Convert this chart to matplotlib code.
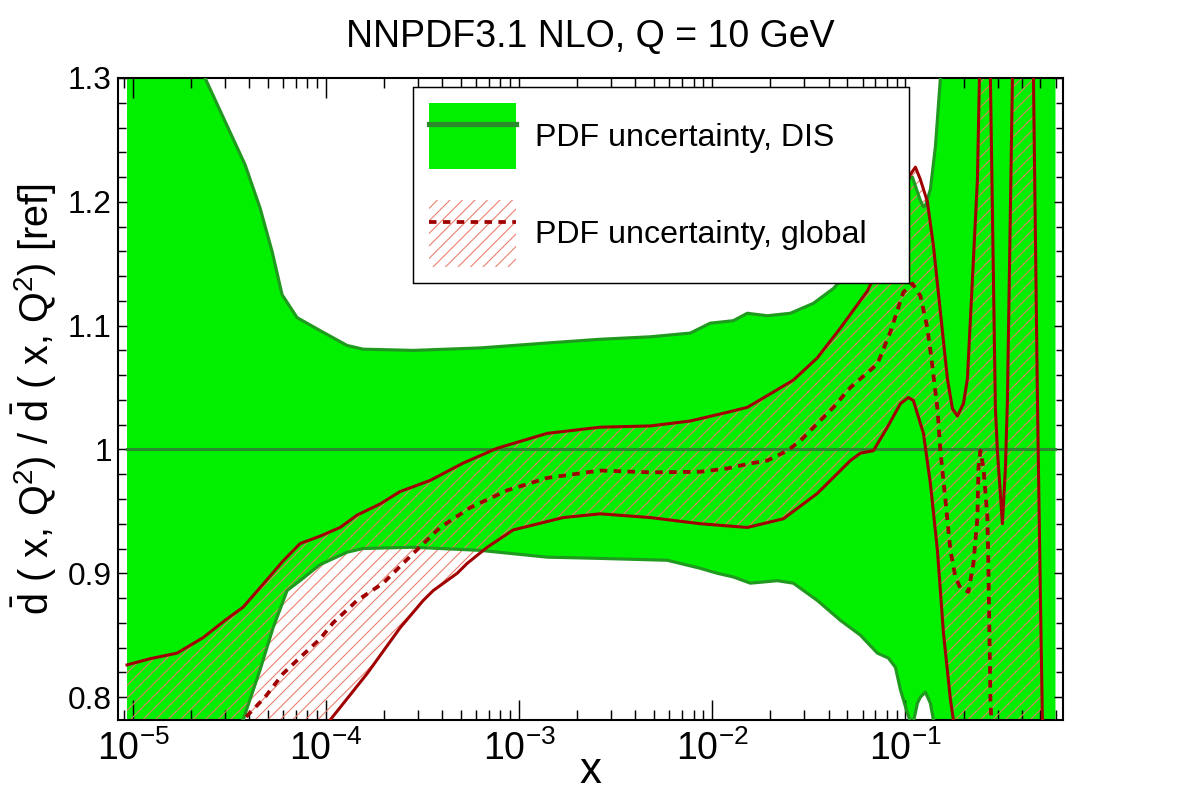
import numpy as np
import matplotlib
matplotlib.use("Agg")
import matplotlib.pyplot as plt
from matplotlib.patches import Patch
from matplotlib.lines import Line2D
from matplotlib.ticker import MultipleLocator, LogLocator, FuncFormatter, NullFormatter

plt.rcParams['font.family'] = ['Liberation Sans', 'DejaVu Sans']
plt.rcParams['mathtext.fontset'] = 'custom'
plt.rcParams['mathtext.rm'] = 'Liberation Sans'
plt.rcParams['mathtext.it'] = 'Liberation Sans:italic'
plt.rcParams['mathtext.bf'] = 'Liberation Sans:bold'
plt.rcParams['hatch.linewidth'] = 0.5

# DIS fit: upper / lower edge of the PDF band (ratio to DIS central value)
dis_x_up = [9.31e-6, 1.69e-5, 2.361e-5, 2.997e-5, 3.805e-5, 4.55e-5, 5.25e-5, 5.916e-5,
            7.075e-5, 9.31e-5, 1.284e-4, 1.555e-4, 2.824e-4, 6.28e-4, 1.397e-3, 2.628e-3,
            4.773e-3, 7.691e-3, 9.763e-3, 1.285e-2, 1.518e-2, 1.928e-2, 2.535e-2, 3.337e-2,
            4.236e-2, 5.188e-2, 6.357e-2, 7.424e-2, 8.364e-2, 9.422e-2, 1.049e-1, 1.087e-1,
            1.196e-1, 1.24e-1, 1.27e-1, 1.347e-1, 1.431e-1, 1.518e-1, 1.711e-1, 2.172e-1,
            3.105e-1, 5.988e-1]
dis_up = [1.48, 1.37, 1.30, 1.265, 1.230, 1.195, 1.160, 1.125,
          1.1065, 1.096, 1.084, 1.081, 1.080, 1.082, 1.086, 1.089,
          1.091, 1.094, 1.102, 1.104, 1.110, 1.108, 1.110, 1.118,
          1.130, 1.145, 1.165, 1.185, 1.200, 1.212, 1.219, 1.220,
          1.201, 1.196, 1.197, 1.210, 1.245, 1.30, 1.45, 1.6,
          1.6, 1.6]

dis_x_lo = [9.31e-6, 1.69e-5, 2.361e-5, 2.997e-5, 3.715e-5, 4.55e-5, 5.313e-5, 6.28e-5,
            7.6e-5, 9.31e-5, 1.284e-4, 1.555e-4, 2.824e-4, 6.28e-4, 1.397e-3, 2.628e-3,
            5.846e-3, 8.666e-3, 1.061e-2, 1.285e-2, 1.574e-2, 2.172e-2, 2.628e-2, 3.5e-2,
            4.605e-2, 5.846e-2, 7.16e-2, 8.167e-2, 8.88e-2, 9.422e-2, 1.024e-1, 1.087e-1,
            1.154e-1, 1.196e-1, 1.27e-1, 1.347e-1, 1.397e-1, 1.518e-1, 3.105e-1, 5.988e-1]
dis_lo = [0.70, 0.72, 0.74, 0.76, 0.7815, 0.822, 0.856, 0.886,
          0.896, 0.907, 0.917, 0.920, 0.921, 0.9185, 0.913, 0.912,
          0.9105, 0.904, 0.900, 0.897, 0.892, 0.894, 0.892, 0.878,
          0.862, 0.850, 0.8355, 0.8315, 0.824, 0.806, 0.787, 0.776,
          0.795, 0.800, 0.804, 0.795, 0.7815, 0.75, 0.6, 0.5]

dis_x_ends = [9.31e-6, 5.988e-1]
dis_central = [1.0, 1.0]

# global fit: upper / lower edge and central value
glob_x_up = [9.31e-6, 1.225e-5, 1.69e-5, 2.306e-5, 2.997e-5, 3.715e-5, 4.83e-5, 5.988e-5,
             7.33e-5, 9.31e-5, 1.182e-4, 1.447e-4, 1.905e-4, 2.417e-4, 3.459e-4, 5.126e-4,
             7.691e-4, 1.397e-3, 2.628e-3, 4.773e-3, 7.691e-3, 1.196e-2, 1.518e-2, 1.928e-2,
             2.628e-2, 3.5e-2, 4.605e-2, 6.357e-2, 7.424e-2, 8.364e-2, 9.422e-2, 1.049e-1,
             1.127e-1, 1.196e-1, 1.30e-1, 1.397e-1, 1.518e-1, 1.651e-1, 1.752e-1, 1.859e-1,
             1.998e-1, 2.095e-1, 2.225e-1, 2.361e-1, 2.418e-1, 2.567e-1, 2.756e-1, 2.925e-1,
             2.996e-1, 3.18e-1, 3.296e-1, 3.376e-1, 3.584e-1, 3.943e-1, 4.605e-1, 4.83e-1,
             5.006e-1, 5.126e-1, 5.64e-1, 5.988e-1]
glob_up = [0.826, 0.831, 0.8355, 0.848, 0.862, 0.8726, 0.893, 0.910,
           0.924, 0.930, 0.937, 0.947, 0.956, 0.966, 0.975, 0.989,
           1.001, 1.013, 1.018, 1.019, 1.023, 1.030, 1.034, 1.0435,
           1.056, 1.074, 1.098, 1.128, 1.15, 1.17, 1.195, 1.221,
           1.228, 1.218, 1.200, 1.1645, 1.111, 1.057, 1.033, 1.027,
           1.037, 1.057, 1.138, 1.218, 1.30, 1.45, 1.30, 1.033,
           0.999, 0.940, 0.985, 1.0395, 1.30, 1.45, 1.30, 1.0395,
           0.878, 0.78, 0.6, 0.5]

glob_x_lo = [9.31e-6, 2.224e-5, 4.55e-5, 7.33e-5, 1.049e-4, 1.631e-4, 2.417e-4, 3.182e-4,
             3.585e-4, 4.773e-4, 5.377e-4, 6.826e-4, 9.309e-4, 1.69e-3, 2.628e-3, 4.773e-3,
             8.666e-3, 1.518e-2, 2.333e-2, 3.5e-2, 5.188e-2, 5.846e-2, 6.826e-2, 8.07e-2,
             9.422e-2, 1.036e-1, 1.10e-1, 1.24e-1, 1.347e-1, 1.465e-1, 1.574e-1, 1.711e-1,
             1.773e-1, 1.927e-1, 3.105e-1, 5.988e-1]
glob_lo = [0.55, 0.64, 0.71, 0.75, 0.7815, 0.819, 0.856, 0.878,
           0.886, 0.900, 0.908, 0.921, 0.935, 0.945, 0.948, 0.945,
           0.940, 0.937, 0.944, 0.9645, 0.991, 0.997, 0.999, 1.018,
           1.037, 1.042, 1.0395, 1.013, 0.9726, 0.9185, 0.852, 0.798,
           0.7815, 0.74, 0.6, 0.5]

glob_x_c = [9.31e-6, 1.69e-5, 2.997e-5, 3.715e-5, 4.83e-5, 5.988e-5, 7.33e-5, 9.31e-5,
            1.087e-4, 1.447e-4, 1.974e-4, 2.824e-4, 3.897e-4, 5.572e-4, 8.666e-4, 1.397e-3,
            2.628e-3, 4.773e-3, 8.666e-3, 1.196e-2, 1.574e-2, 1.928e-2, 2.447e-2, 2.857e-2,
            3.5e-2, 4.236e-2, 5.188e-2, 6.357e-2, 7.16e-2, 8.364e-2, 9.763e-2, 1.087e-1,
            1.196e-1, 1.30e-1, 1.37e-1, 1.465e-1, 1.518e-1, 1.612e-1, 1.711e-1, 1.815e-1,
            1.927e-1, 2.12e-1, 2.251e-1, 2.361e-1, 2.389e-1, 2.447e-1, 2.537e-1, 2.66e-1,
            2.692e-1, 2.756e-1, 2.789e-1, 3.105e-1, 5.988e-1]
glob_c = [0.66, 0.72, 0.765, 0.7815, 0.80, 0.819, 0.832, 0.847,
          0.860, 0.878, 0.892, 0.916, 0.937, 0.953, 0.967, 0.977,
          0.983, 0.9815, 0.982, 0.9847, 0.9887, 0.991, 0.999, 1.007,
          1.021, 1.034, 1.050, 1.062, 1.069, 1.095, 1.127, 1.134,
          1.124, 1.098, 1.071, 1.033, 0.999, 0.959, 0.9185, 0.897,
          0.888, 0.885, 0.908, 0.945, 0.985, 0.999, 0.985, 0.945,
          0.905, 0.798, 0.78, 0.6, 0.5]

labels = ['PDF uncertainty, DIS', 'PDF uncertainty, global']

green = '#00f000'
green_edge = '#1f9a1f'
green_line = '#2b8a2b'
red = '#a00000'
hatch_col = '#ec7a6a'

fig = plt.figure(figsize=(1182 / 150, 800 / 150), dpi=150)
ax = fig.add_axes([118 / 1182, 80 / 800, 945 / 1182, 642 / 800])

a = np.array
ax.fill(np.r_[a(dis_x_up), a(dis_x_lo)[::-1]], np.r_[a(dis_up), a(dis_lo)[::-1]],
        color=green, lw=0, zorder=1)
ax.fill(np.r_[a(glob_x_up), a(glob_x_lo)[::-1]], np.r_[a(glob_up), a(glob_lo)[::-1]],
        facecolor='none', edgecolor=hatch_col, hatch='////', lw=0, zorder=2)
ax.plot(dis_x_up, dis_up, color=green_edge, lw=1.5, zorder=3)
ax.plot(dis_x_lo, dis_lo, color=green_edge, lw=1.5, zorder=3)
ax.plot(dis_x_ends, dis_central, color=green_line, lw=1.5, zorder=3)
ax.plot(glob_x_up, glob_up, color=red, lw=1.45, zorder=4)
ax.plot(glob_x_lo, glob_lo, color=red, lw=1.45, zorder=4)
ax.plot(glob_x_c, glob_c, color=red, lw=1.8, dashes=(2.0, 1.7), zorder=5)

ax.set_xscale('log')
ax.set_xlim(8.36e-6, 0.655)
ax.set_ylim(0.7815, 1.3)

ax.xaxis.set_major_locator(LogLocator(base=10, numticks=20))
ax.xaxis.set_minor_locator(LogLocator(base=10, subs=np.arange(2, 10), numticks=20))
ax.xaxis.set_minor_formatter(NullFormatter())
ax.yaxis.set_major_locator(MultipleLocator(0.1))
ax.yaxis.set_minor_locator(MultipleLocator(0.02))
ax.yaxis.set_major_formatter(FuncFormatter(lambda v, p: f'{v:g}'))

ax.tick_params(axis='both', which='both', direction='in', top=True, right=True,
               width=0.7, colors='black')
ax.tick_params(axis='x', which='major', length=9.6, labelsize=18, pad=5)
ax.tick_params(axis='x', which='minor', length=4.8)
ax.tick_params(axis='y', which='major', length=4.5, labelsize=15.2, pad=3)
ax.tick_params(axis='y', which='minor', length=3.6)
for s in ax.spines.values():
    s.set_linewidth(1.0)

ax.set_title('NNPDF3.1 NLO, Q = 10 GeV', fontsize=18, pad=15)
ax.set_xlabel('x', fontsize=21, labelpad=-8)
ax.set_ylabel(r'$\bar{\mathrm{d}}$ ( x, Q$^{2}$) / $\bar{\mathrm{d}}$ ( x, Q$^{2}$) [ref]',
              fontsize=19, labelpad=4)

handles = [
    (Patch(facecolor=green, edgecolor='none'), Line2D([], [], color=green_line, lw=2.5)),
    (Patch(facecolor='white', edgecolor=hatch_col, hatch='////', lw=0),
     Line2D([], [], color=red, lw=1.8, dashes=(2.0, 1.7))),
]
leg = ax.legend(handles, labels, loc='upper left', bbox_to_anchor=(0.312, 0.3, 0.525, 0.686),
                mode='expand', borderaxespad=0, fontsize=15.4, handlelength=2.7,
                handleheight=2.8, labelspacing=0.97, borderpad=0.5, handletextpad=0.6,
                fancybox=False, framealpha=1, edgecolor='black')
leg.get_frame().set_linewidth(0.7)
leg.set_zorder(10)

fig.savefig('out.png', dpi=150)
